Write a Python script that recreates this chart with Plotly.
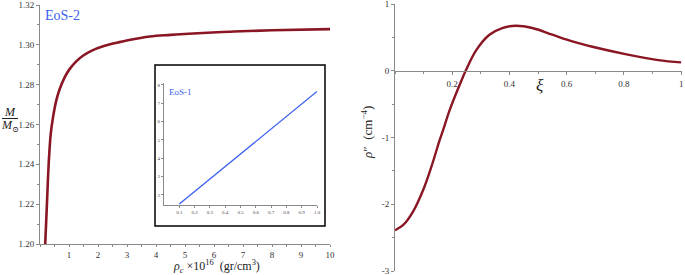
import plotly.graph_objects as go

W, H = 685, 275

# ---- data: left panel (EoS-2) ----
rho_c = [0.18, 0.24, 0.30, 0.37, 0.45, 0.56, 0.68, 0.85, 1.02, 1.25, 1.48, 1.77,
         2.23, 2.69, 3.03, 3.79, 4.5, 5.28, 6.55, 8.0, 10.0]
mass = [1.200, 1.2204, 1.2404, 1.2553, 1.2637, 1.2720, 1.2778, 1.2837, 1.2878,
        1.2917, 1.2945, 1.2970, 1.2995, 1.3012, 1.3023, 1.3042, 1.3050, 1.3057,
        1.3066, 1.3073, 1.3079]

# ---- data: inset (EoS-1) ----
inset_x = [0.1, 1.0]
inset_y = [1.5, 7.64]

# ---- data: right panel ----
xi = [0.0, 0.029, 0.063, 0.098, 0.127, 0.156, 0.168, 0.191, 0.226, 0.247, 0.284,
      0.33, 0.375, 0.423, 0.48, 0.55, 0.62, 0.69, 0.805, 0.92, 1.0]
rho2 = [-2.39, -2.31, -2.11, -1.79, -1.44, -1.04, -0.89, -0.59, -0.21, 0.0, 0.31,
        0.54, 0.64, 0.675, 0.64, 0.54, 0.44, 0.36, 0.25, 0.16, 0.125]

left_xticks = [1, 2, 3, 4, 5, 6, 7, 8, 9, 10]
left_yticks = [1.20, 1.22, 1.24, 1.26, 1.28, 1.30, 1.32]
right_xticks = [0.2, 0.4, 0.6, 0.8, 1.0]
right_xlabels = ["0.2", "0.4", "0.6", "0.8", "1"]
right_yticks = [1, 0, -1, -2, -3]
right_ylabels = ["1", "0", "-1", "-2", "-3"]
inset_xticks = [0.1, 0.2, 0.3, 0.4, 0.5, 0.6, 0.7, 0.8, 0.9, 1.0]
inset_yticks = [2, 3, 4, 5, 6, 7, 8]


def px(x):
    return x / W


def py(y):
    return 1 - y / H


RED = "#8a1624"
BLUE = "#3a5ff0"
AX = "#8a8a8a"
FONT = "Times New Roman, Liberation Serif, DejaVu Serif, serif"

fig = go.Figure()
fig.add_trace(go.Scatter(x=rho_c, y=mass, mode="lines", line=dict(color=RED, width=2.6, shape="spline"),
                         xaxis="x", yaxis="y", showlegend=False))
fig.add_trace(go.Scatter(x=xi, y=rho2, mode="lines", line=dict(color=RED, width=2.4, shape="spline"),
                         xaxis="x2", yaxis="y2", showlegend=False))
fig.add_trace(go.Scatter(x=inset_x, y=inset_y, mode="lines", line=dict(color=BLUE, width=1.3),
                         xaxis="x3", yaxis="y3", showlegend=False))

common = dict(showgrid=False, zeroline=False, showline=True, linecolor=AX, linewidth=1,
              automargin=False, ticklabeloverflow="allow",
              ticks="outside", tickcolor=AX, tickfont=dict(family=FONT, size=9, color="#333"))
inset_common = dict(showgrid=False, zeroline=False, showline=True, linecolor=AX,
                    automargin=False, linewidth=0.8, ticks="outside", ticklen=2, tickcolor=AX,
                    tickfont=dict(family=FONT, size=5, color="#444"))

fig.update_layout(
    width=W, height=H, margin=dict(l=0, r=0, t=0, b=0, pad=0, autoexpand=False),
    paper_bgcolor="white", plot_bgcolor="rgba(0,0,0,0)",
    font=dict(family=FONT),
    xaxis=dict(domain=[px(40), px(330)], range=[0, 10], anchor="y", tickvals=left_xticks,
               ticklen=2,
               minor=dict(dtick=0.5, tick0=0, ticklen=2, ticks="outside", tickcolor=AX), **common),
    yaxis=dict(domain=[py(244), py(5)], range=[1.20, 1.32], anchor="x", tickvals=left_yticks,
               tickformat=".2f", ticklen=3,
               minor=dict(dtick=0.01, tick0=1.2, ticklen=2, ticks="outside", tickcolor=AX), **common),
    xaxis2=dict(domain=[px(395), px(682)], range=[0, 1.003], anchor="free", position=py(70.75),
                tickvals=right_xticks, ticktext=right_xlabels, ticklen=3, ticklabelstandoff=1,
                minor=dict(dtick=0.1, tick0=0, ticklen=2, ticks="outside", tickcolor=AX), **common),
    yaxis2=dict(domain=[py(271), py(4)], range=[-3, 1], anchor="x2",
                tickvals=right_yticks, ticktext=right_ylabels, ticklen=3,
                minor=dict(dtick=0.5, tick0=0, ticklen=2, ticks="outside", tickcolor=AX), **common),
    xaxis3=dict(domain=[px(164), px(317)], range=[0, 1], anchor="y3", tickvals=inset_xticks,
                tickformat=".1f", **inset_common),
    yaxis3=dict(domain=[py(205), py(83)], range=[1.45, 8.1], anchor="x3", tickvals=inset_yticks,
                **inset_common),
)

# inset frame
fig.add_shape(type="rect", xref="paper", yref="paper", x0=px(155), x1=px(325), y0=py(226), y1=py(65),
              line=dict(color="black", width=1.5), layer="below")
# fraction bar of y label
fig.add_shape(type="line", xref="paper", yref="paper", x0=px(2), x1=px(18), y0=py(118.5), y1=py(118.5),
              line=dict(color="#222", width=1))

ann = [
    dict(x=px(43), y=py(15), text="EoS-2", font=dict(family=FONT, size=14, color=BLUE), xanchor="left"),
    dict(x=px(167), y=py(92), text="EoS-1", font=dict(family=FONT, size=9, color=BLUE), xanchor="left"),
    dict(x=px(216), y=py(266), text="<i>ρ<sub>c</sub></i> ×10<sup>16</sup>  (gr/cm<sup>3</sup>)",
         font=dict(family=FONT, size=12, color="#222"), xanchor="center"),
    dict(x=px(10), y=py(112), text="<i>M</i>", font=dict(family=FONT, size=12, color="#222"), xanchor="center"),
    dict(x=px(9.5), y=py(126), text="<i>M</i><sub>⊙</sub>", font=dict(family=FONT, size=12, color="#222"),
         xanchor="center"),
    dict(x=px(540), y=py(85), text="<i>ξ</i>", font=dict(family=FONT, size=17, color="#222"), xanchor="center"),
    dict(x=px(367), y=py(133), text="<i>ρ</i>″  (cm<sup>−4</sup>)", textangle=-90,
         font=dict(family=FONT, size=13, color="#222"), xanchor="center"),
]
for a in ann:
    a.update(xref="paper", yref="paper", showarrow=False, yanchor="middle")
    fig.add_annotation(**a)

fig.write_html("out.html", config={"displayModeBar": False},
               post_script="document.body.style.margin='0';document.body.style.padding='0';"
                           "document.body.style.overflow='hidden';")
